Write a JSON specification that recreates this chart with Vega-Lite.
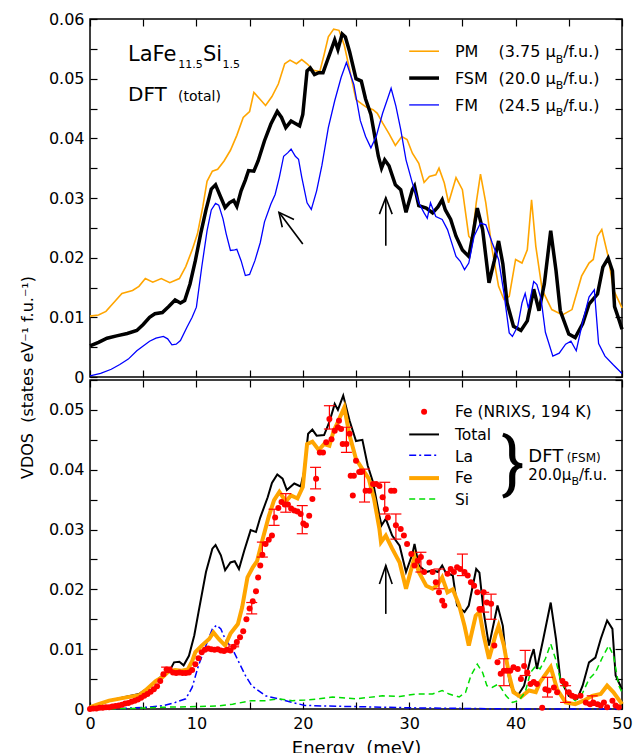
{
"$schema":"https://vega.github.io/schema/vega-lite/v6.json",
"background":"white",
"padding":{"left":18,"top":10,"right":5,"bottom":5},
"config":{"view":{"stroke":"black","strokeWidth":1.5},"font":"DejaVu Sans",
"axis":{"domain":false,"grid":false,"ticks":true,"tickColor":"black","tickWidth":1.2,"tickSize":-7,"labelFont":"DejaVu Sans","labelFontSize":16,"labelColor":"black","labelPadding":13,"labelFlush":false,"labelOverlap":false,"titleFont":"DejaVu Sans","titleFontWeight":"normal","titleColor":"black"}},
"datasets":{
"pm":[{"E":0,"v":0.0102},{"E":0.8,"v":0.0104},{"E":1.5,"v":0.011},{"E":2.2,"v":0.0124},{"E":3,"v":0.014},{"E":4,"v":0.0145},{"E":4.6,"v":0.0152},{"E":5.2,"v":0.0165},{"E":5.9,"v":0.0159},{"E":6.7,"v":0.0165},{"E":7.5,"v":0.0158},{"E":8.4,"v":0.0165},{"E":9,"v":0.0185},{"E":9.6,"v":0.0213},{"E":10.1,"v":0.024},{"E":10.6,"v":0.0285},{"E":11,"v":0.0328},{"E":11.5,"v":0.0345},{"E":12,"v":0.0348},{"E":12.6,"v":0.0362},{"E":13.2,"v":0.038},{"E":13.8,"v":0.0405},{"E":14.4,"v":0.0435},{"E":15,"v":0.0445},{"E":15.4,"v":0.0477},{"E":16,"v":0.0465},{"E":16.5,"v":0.0455},{"E":17.1,"v":0.047},{"E":17.7,"v":0.0491},{"E":18.3,"v":0.0525},{"E":18.8,"v":0.0531},{"E":19.4,"v":0.0525},{"E":19.9,"v":0.0532},{"E":20.4,"v":0.0525},{"E":21,"v":0.0514},{"E":21.6,"v":0.0512},{"E":22,"v":0.054},{"E":22.4,"v":0.057},{"E":22.9,"v":0.0583},{"E":23.4,"v":0.0581},{"E":23.9,"v":0.0556},{"E":24.4,"v":0.0515},{"E":25,"v":0.0465},{"E":25.5,"v":0.0458},{"E":26,"v":0.0452},{"E":26.6,"v":0.0448},{"E":27,"v":0.0442},{"E":27.5,"v":0.0426},{"E":28.1,"v":0.0408},{"E":28.7,"v":0.0388},{"E":29.3,"v":0.0403},{"E":29.8,"v":0.0398},{"E":30.3,"v":0.0375},{"E":30.9,"v":0.0358},{"E":31.4,"v":0.0326},{"E":31.9,"v":0.0336},{"E":32.5,"v":0.0339},{"E":32.8,"v":0.035},{"E":33.3,"v":0.0325},{"E":33.7,"v":0.0292},{"E":34.4,"v":0.0334},{"E":35,"v":0.0314},{"E":35.6,"v":0.0236},{"E":35.9,"v":0.023},{"E":36.3,"v":0.0292},{"E":36.7,"v":0.034},{"E":37.2,"v":0.0292},{"E":37.8,"v":0.0213},{"E":38.4,"v":0.0152},{"E":38.9,"v":0.013},{"E":39.4,"v":0.0135},{"E":40,"v":0.0197},{"E":40.6,"v":0.0191},{"E":41.1,"v":0.0213},{"E":41.5,"v":0.0297},{"E":41.9,"v":0.0219},{"E":42.5,"v":0.0146},{"E":43.4,"v":0.0113},{"E":44.4,"v":0.0104},{"E":45.3,"v":0.0113},{"E":46.2,"v":0.0169},{"E":46.9,"v":0.0191},{"E":47.3,"v":0.0197},{"E":47.7,"v":0.0236},{"E":48.1,"v":0.0247},{"E":48.7,"v":0.0202},{"E":49.2,"v":0.0146},{"E":50,"v":0.0116}],
"fsm":[{"E":0,"v":0.0052},{"E":0.8,"v":0.0058},{"E":1.6,"v":0.0065},{"E":2.5,"v":0.0069},{"E":3.5,"v":0.0073},{"E":4.4,"v":0.0078},{"E":5,"v":0.0088},{"E":5.6,"v":0.01},{"E":6.1,"v":0.0106},{"E":6.8,"v":0.0108},{"E":7.4,"v":0.0118},{"E":8,"v":0.0129},{"E":8.5,"v":0.0124},{"E":8.9,"v":0.0128},{"E":9.4,"v":0.0156},{"E":9.9,"v":0.0195},{"E":10.4,"v":0.024},{"E":10.9,"v":0.028},{"E":11.4,"v":0.0315},{"E":11.8,"v":0.0322},{"E":12.2,"v":0.0305},{"E":12.7,"v":0.0284},{"E":13.1,"v":0.0292},{"E":13.5,"v":0.0296},{"E":13.8,"v":0.0286},{"E":14.2,"v":0.0312},{"E":14.6,"v":0.033},{"E":14.9,"v":0.0346},{"E":15.4,"v":0.0345},{"E":15.8,"v":0.0362},{"E":16.4,"v":0.0396},{"E":17,"v":0.0424},{"E":17.6,"v":0.0445},{"E":18,"v":0.0435},{"E":18.4,"v":0.0418},{"E":18.9,"v":0.0429},{"E":19.3,"v":0.0425},{"E":19.7,"v":0.0421},{"E":20,"v":0.044},{"E":20.4,"v":0.0513},{"E":20.7,"v":0.0518},{"E":21.1,"v":0.0507},{"E":21.5,"v":0.051},{"E":21.9,"v":0.051},{"E":22.3,"v":0.053},{"E":22.6,"v":0.0545},{"E":23,"v":0.0565},{"E":23.3,"v":0.0549},{"E":23.7,"v":0.0575},{"E":24,"v":0.057},{"E":24.4,"v":0.0545},{"E":25,"v":0.05},{"E":25.5,"v":0.0496},{"E":25.9,"v":0.0466},{"E":26.4,"v":0.044},{"E":26.8,"v":0.04},{"E":27.1,"v":0.037},{"E":27.4,"v":0.035},{"E":27.7,"v":0.0364},{"E":28.1,"v":0.0354},{"E":28.7,"v":0.0322},{"E":29.2,"v":0.0314},{"E":29.7,"v":0.0276},{"E":30.3,"v":0.0314},{"E":30.5,"v":0.032},{"E":30.9,"v":0.0287},{"E":31.6,"v":0.0283},{"E":32.2,"v":0.0275},{"E":32.7,"v":0.0285},{"E":33.1,"v":0.0297},{"E":33.4,"v":0.028},{"E":33.9,"v":0.0264},{"E":34.4,"v":0.0236},{"E":35,"v":0.0213},{"E":35.6,"v":0.0202},{"E":36,"v":0.024},{"E":36.4,"v":0.0283},{"E":36.9,"v":0.0247},{"E":37.5,"v":0.0158},{"E":38,"v":0.0195},{"E":38.4,"v":0.0228},{"E":38.8,"v":0.019},{"E":39.2,"v":0.0124},{"E":39.8,"v":0.0085},{"E":40.5,"v":0.0078},{"E":41.1,"v":0.0094},{"E":41.7,"v":0.0147},{"E":42.2,"v":0.0111},{"E":42.7,"v":0.0156},{"E":43.3,"v":0.0245},{"E":43.8,"v":0.0178},{"E":44.2,"v":0.0111},{"E":45,"v":0.0072},{"E":45.6,"v":0.0066},{"E":46.3,"v":0.0089},{"E":46.9,"v":0.0122},{"E":47.7,"v":0.0139},{"E":48.2,"v":0.0184},{"E":48.7,"v":0.0199},{"E":49.1,"v":0.0178},{"E":49.3,"v":0.0118},{"E":49.7,"v":0.0097},{"E":50,"v":0.008}],
"fm":[{"E":0,"v":0.0002},{"E":1,"v":0.0006},{"E":2,"v":0.0013},{"E":2.8,"v":0.0021},{"E":3.6,"v":0.003},{"E":4.4,"v":0.0044},{"E":5,"v":0.0052},{"E":5.6,"v":0.006},{"E":6.2,"v":0.0065},{"E":6.9,"v":0.0068},{"E":7.3,"v":0.0064},{"E":7.7,"v":0.0054},{"E":8.1,"v":0.0055},{"E":8.5,"v":0.0061},{"E":9.1,"v":0.0083},{"E":9.6,"v":0.01},{"E":10,"v":0.0117},{"E":10.5,"v":0.0184},{"E":11,"v":0.0245},{"E":11.4,"v":0.028},{"E":11.8,"v":0.0291},{"E":12.1,"v":0.0288},{"E":12.5,"v":0.0265},{"E":12.8,"v":0.024},{"E":13.2,"v":0.0212},{"E":13.6,"v":0.0213},{"E":13.8,"v":0.0214},{"E":14.2,"v":0.0195},{"E":14.6,"v":0.017},{"E":15,"v":0.0172},{"E":15.5,"v":0.0195},{"E":16,"v":0.0225},{"E":16.4,"v":0.026},{"E":17,"v":0.029},{"E":17.4,"v":0.0306},{"E":17.8,"v":0.0335},{"E":18.2,"v":0.037},{"E":18.6,"v":0.0376},{"E":18.9,"v":0.0382},{"E":19.3,"v":0.037},{"E":19.6,"v":0.0365},{"E":19.9,"v":0.0335},{"E":20.4,"v":0.0292},{"E":20.8,"v":0.0281},{"E":21.3,"v":0.0312},{"E":21.8,"v":0.0355},{"E":22.4,"v":0.0418},{"E":23,"v":0.0463},{"E":23.6,"v":0.0502},{"E":24.1,"v":0.0527},{"E":24.8,"v":0.049},{"E":25.4,"v":0.043},{"E":25.9,"v":0.0403},{"E":26.4,"v":0.0384},{"E":26.9,"v":0.0403},{"E":27.5,"v":0.0442},{"E":28,"v":0.0468},{"E":28.3,"v":0.0484},{"E":28.75,"v":0.0454},{"E":29.2,"v":0.0415},{"E":29.7,"v":0.0364},{"E":30.3,"v":0.0325},{"E":30.9,"v":0.0292},{"E":31.4,"v":0.0275},{"E":31.7,"v":0.0266},{"E":32,"v":0.0292},{"E":32.5,"v":0.0269},{"E":33.1,"v":0.0264},{"E":33.6,"v":0.0247},{"E":34.1,"v":0.0219},{"E":34.4,"v":0.0202},{"E":34.8,"v":0.0194},{"E":35.2,"v":0.018},{"E":35.6,"v":0.0191},{"E":36.1,"v":0.0236},{"E":36.7,"v":0.0258},{"E":37.2,"v":0.0255},{"E":37.8,"v":0.0225},{"E":38.4,"v":0.0197},{"E":38.9,"v":0.0141},{"E":39.4,"v":0.0074},{"E":39.7,"v":0.0068},{"E":40.2,"v":0.0085},{"E":40.6,"v":0.0124},{"E":40.9,"v":0.014},{"E":41.2,"v":0.0115},{"E":41.7,"v":0.016},{"E":42,"v":0.0155},{"E":42.4,"v":0.013},{"E":42.8,"v":0.0075},{"E":43.5,"v":0.0035},{"E":44.1,"v":0.004},{"E":44.7,"v":0.0055},{"E":45.2,"v":0.006},{"E":45.7,"v":0.0044},{"E":46.3,"v":0.0092},{"E":46.9,"v":0.0134},{"E":47.4,"v":0.0146},{"E":47.8,"v":0.0056},{"E":48.4,"v":0.0035},{"E":49.2,"v":0.002},{"E":50,"v":0.0006}],
"tot":[{"E":0,"v":0},{"E":0.8,"v":0.0006},{"E":1.8,"v":0.0014},{"E":3.3,"v":0.002},{"E":4.6,"v":0.0025},{"E":5.5,"v":0.0036},{"E":6.2,"v":0.0047},{"E":6.8,"v":0.0056},{"E":7.4,"v":0.0061},{"E":7.9,"v":0.0078},{"E":8.4,"v":0.0079},{"E":8.8,"v":0.0073},{"E":9.3,"v":0.0089},{"E":9.8,"v":0.0123},{"E":10.2,"v":0.0162},{"E":10.9,"v":0.0229},{"E":11.5,"v":0.0268},{"E":11.8,"v":0.0274},{"E":12.3,"v":0.0257},{"E":12.7,"v":0.0232},{"E":13.2,"v":0.0245},{"E":13.6,"v":0.0247},{"E":14,"v":0.0234},{"E":14.5,"v":0.0265},{"E":15.1,"v":0.0299},{"E":15.6,"v":0.0296},{"E":16,"v":0.032},{"E":16.7,"v":0.0354},{"E":17.1,"v":0.0378},{"E":17.6,"v":0.0392},{"E":18.1,"v":0.0385},{"E":18.5,"v":0.0366},{"E":19.2,"v":0.0377},{"E":19.8,"v":0.0372},{"E":20.1,"v":0.0395},{"E":20.5,"v":0.046},{"E":20.9,"v":0.0467},{"E":21.3,"v":0.0457},{"E":22,"v":0.0458},{"E":22.5,"v":0.048},{"E":23,"v":0.051},{"E":23.3,"v":0.05},{"E":23.8,"v":0.0524},{"E":24.4,"v":0.0482},{"E":25,"v":0.0448},{"E":25.6,"v":0.045},{"E":26.1,"v":0.0407},{"E":26.6,"v":0.0379},{"E":27.2,"v":0.0323},{"E":27.4,"v":0.0307},{"E":27.8,"v":0.0318},{"E":28.4,"v":0.029},{"E":29.1,"v":0.0273},{"E":29.7,"v":0.0229},{"E":30.3,"v":0.0259},{"E":30.5,"v":0.0276},{"E":30.9,"v":0.024},{"E":31.6,"v":0.0229},{"E":32.2,"v":0.0232},{"E":32.7,"v":0.0229},{"E":33.1,"v":0.024},{"E":33.4,"v":0.0229},{"E":34.1,"v":0.0223},{"E":34.5,"v":0.0173},{"E":35.2,"v":0.0162},{"E":35.6,"v":0.0173},{"E":36.3,"v":0.0234},{"E":36.6,"v":0.0228},{"E":37,"v":0.0162},{"E":37.5,"v":0.0106},{"E":38.3,"v":0.0173},{"E":38.8,"v":0.0139},{"E":39.1,"v":0.0084},{"E":39.5,"v":0.0039},{"E":40.2,"v":0.0022},{"E":40.8,"v":0.0039},{"E":41.4,"v":0.0084},{"E":41.7,"v":0.01},{"E":42,"v":0.0067},{"E":42.6,"v":0.0117},{"E":43.3,"v":0.0178},{"E":43.8,"v":0.0117},{"E":44.2,"v":0.005},{"E":45,"v":0.0022},{"E":45.8,"v":0.0017},{"E":46.3,"v":0.0039},{"E":46.9,"v":0.0078},{"E":47.5,"v":0.0086},{"E":48,"v":0.0117},{"E":48.6,"v":0.0148},{"E":49.1,"v":0.0134},{"E":49.4,"v":0.0056},{"E":50,"v":0.0033}],
"fe":[{"E":0,"v":0.0003},{"E":0.8,"v":0.0008},{"E":1.8,"v":0.0014},{"E":3.3,"v":0.0019},{"E":4.6,"v":0.0023},{"E":5.2,"v":0.0031},{"E":6.2,"v":0.0047},{"E":6.8,"v":0.0053},{"E":7.4,"v":0.0063},{"E":8,"v":0.0065},{"E":8.6,"v":0.0064},{"E":9.2,"v":0.0066},{"E":9.6,"v":0.008},{"E":9.9,"v":0.0095},{"E":10.5,"v":0.0106},{"E":11.2,"v":0.0117},{"E":11.6,"v":0.0128},{"E":12.1,"v":0.0117},{"E":12.7,"v":0.0106},{"E":13.2,"v":0.0126},{"E":13.9,"v":0.0142},{"E":14.3,"v":0.017},{"E":14.8,"v":0.022},{"E":15.3,"v":0.0237},{"E":15.7,"v":0.0247},{"E":16.2,"v":0.0282},{"E":16.8,"v":0.0322},{"E":17.3,"v":0.0349},{"E":17.8,"v":0.0363},{"E":18.4,"v":0.0347},{"E":18.9,"v":0.0357},{"E":19.5,"v":0.0352},{"E":20,"v":0.0371},{"E":20.4,"v":0.0443},{"E":20.9,"v":0.0447},{"E":21.5,"v":0.0433},{"E":22,"v":0.0443},{"E":22.5,"v":0.044},{"E":22.9,"v":0.0465},{"E":23.3,"v":0.048},{"E":23.9,"v":0.0504},{"E":24.4,"v":0.0457},{"E":25,"v":0.0418},{"E":25.6,"v":0.0401},{"E":26.2,"v":0.0385},{"E":26.7,"v":0.0351},{"E":27.2,"v":0.0301},{"E":27.35,"v":0.0279},{"E":27.8,"v":0.029},{"E":28.4,"v":0.0268},{"E":29.1,"v":0.0245},{"E":29.7,"v":0.0201},{"E":30.5,"v":0.0254},{"E":30.9,"v":0.0229},{"E":31.6,"v":0.0206},{"E":32.2,"v":0.0201},{"E":32.65,"v":0.0207},{"E":33.1,"v":0.022},{"E":33.6,"v":0.0195},{"E":34.1,"v":0.02},{"E":34.7,"v":0.0173},{"E":35.2,"v":0.0139},{"E":35.6,"v":0.0106},{"E":36.25,"v":0.0156},{"E":36.6,"v":0.0162},{"E":37,"v":0.0123},{"E":37.5,"v":0.0084},{"E":38.1,"v":0.0123},{"E":38.4,"v":0.0139},{"E":38.9,"v":0.0106},{"E":39.4,"v":0.0056},{"E":39.8,"v":0.0028},{"E":40.5,"v":0.002},{"E":41.25,"v":0.0031},{"E":41.9,"v":0.0028},{"E":42.3,"v":0.0045},{"E":43.3,"v":0.007},{"E":43.9,"v":0.0033},{"E":44.7,"v":0.0011},{"E":45.6,"v":0.0008},{"E":46.4,"v":0.0014},{"E":47.2,"v":0.0022},{"E":48,"v":0.0025},{"E":48.6,"v":0.0039},{"E":49.2,"v":0.0028},{"E":50,"v":0.0008}],
"la":[{"E":0,"v":0},{"E":3,"v":0.0001},{"E":5.5,"v":0.0003},{"E":7,"v":0.0006},{"E":8,"v":0.0011},{"E":9,"v":0.0017},{"E":9.6,"v":0.0036},{"E":10.2,"v":0.0073},{"E":10.9,"v":0.0106},{"E":11.5,"v":0.0134},{"E":11.9,"v":0.014},{"E":12.3,"v":0.0134},{"E":12.7,"v":0.0117},{"E":13.4,"v":0.01},{"E":14,"v":0.0078},{"E":14.6,"v":0.0056},{"E":15.2,"v":0.0039},{"E":16.5,"v":0.0022},{"E":17.7,"v":0.0017},{"E":19,"v":0.0011},{"E":20.2,"v":0.0006},{"E":22,"v":0.0005},{"E":25,"v":0.0004},{"E":30,"v":0.0002},{"E":35,"v":0.0001},{"E":40,"v":0},{"E":50,"v":0}],
"si":[{"E":0,"v":0},{"E":4,"v":0.0001},{"E":7,"v":0.0003},{"E":10,"v":0.0004},{"E":12,"v":0.0005},{"E":13.4,"v":0.0008},{"E":15.2,"v":0.0014},{"E":16.5,"v":0.0014},{"E":17.7,"v":0.0017},{"E":19,"v":0.0014},{"E":20.2,"v":0.0015},{"E":21.5,"v":0.0017},{"E":22.8,"v":0.002},{"E":25,"v":0.0017},{"E":27.5,"v":0.0022},{"E":29.1,"v":0.0021},{"E":30.6,"v":0.0025},{"E":32.2,"v":0.0025},{"E":33.1,"v":0.0031},{"E":33.75,"v":0.0025},{"E":34.7,"v":0.002},{"E":35.3,"v":0.0028},{"E":35.8,"v":0.0056},{"E":36.4,"v":0.0075},{"E":36.9,"v":0.0061},{"E":37.3,"v":0.0039},{"E":37.8,"v":0.0036},{"E":38.4,"v":0.0042},{"E":39.1,"v":0.0022},{"E":39.7,"v":0.0011},{"E":40.3,"v":0.0014},{"E":40.9,"v":0.0028},{"E":41.4,"v":0.0061},{"E":41.9,"v":0.0072},{"E":42.3,"v":0.0067},{"E":42.8,"v":0.0084},{"E":43.3,"v":0.0109},{"E":43.75,"v":0.0084},{"E":44.2,"v":0.005},{"E":44.8,"v":0.0028},{"E":45.6,"v":0.0014},{"E":46.25,"v":0.0025},{"E":46.9,"v":0.005},{"E":47.5,"v":0.0061},{"E":48.1,"v":0.0084},{"E":48.75,"v":0.0106},{"E":49.2,"v":0.0089},{"E":49.7,"v":0.0039},{"E":50,"v":0.0028}],
"nrixs":[{"E":0,"v":0},{"E":0.3,"v":0.0001},{"E":0.6,"v":0.0001},{"E":0.9,"v":0.0002},{"E":1.2,"v":0.0002},{"E":1.5,"v":0.0003},{"E":1.8,"v":0.0003},{"E":2.1,"v":0.0004},{"E":2.4,"v":0.0005},{"E":2.7,"v":0.0006},{"E":3,"v":0.0007},{"E":3.3,"v":0.0009},{"E":3.6,"v":0.001},{"E":3.9,"v":0.0012},{"E":4.2,"v":0.0014},{"E":4.5,"v":0.0016},{"E":4.8,"v":0.0019},{"E":5.1,"v":0.0022},{"E":5.4,"v":0.0025},{"E":5.7,"v":0.0029},{"E":6,"v":0.0033},{"E":6.3,"v":0.0038},{"E":6.6,"v":0.0047},{"E":6.9,"v":0.0058},{"E":7.2,"v":0.0066},{"E":7.5,"v":0.0065},{"E":7.8,"v":0.0061},{"E":8.1,"v":0.006},{"E":8.4,"v":0.0061},{"E":8.7,"v":0.006},{"E":9,"v":0.006},{"E":9.3,"v":0.0061},{"E":9.6,"v":0.0065},{"E":9.9,"v":0.0075},{"E":10.2,"v":0.0085},{"E":10.5,"v":0.0095},{"E":10.8,"v":0.0099},{"E":11.1,"v":0.0101},{"E":11.4,"v":0.01},{"E":11.7,"v":0.0099},{"E":12,"v":0.01},{"E":12.3,"v":0.0098},{"E":12.6,"v":0.0097},{"E":12.9,"v":0.0099},{"E":13.2,"v":0.0098},{"E":13.5,"v":0.0104},{"E":13.8,"v":0.0112},{"E":14.1,"v":0.012},{"E":14.4,"v":0.013},{"E":14.7,"v":0.015},{"E":15,"v":0.0168},{"E":15.3,"v":0.018},{"E":15.6,"v":0.0197},{"E":15.8,"v":0.022},{"E":16,"v":0.024},{"E":16.2,"v":0.0258},{"E":16.5,"v":0.0276},{"E":16.8,"v":0.0283},{"E":17.1,"v":0.029},{"E":17.4,"v":0.032},{"E":17.7,"v":0.0336},{"E":18,"v":0.0346},{"E":18.3,"v":0.0342},{"E":18.6,"v":0.0342},{"E":18.9,"v":0.0335},{"E":19.2,"v":0.0332},{"E":19.5,"v":0.033},{"E":19.8,"v":0.0326},{"E":20.05,"v":0.031},{"E":20.3,"v":0.0307},{"E":20.6,"v":0.0323},{"E":20.9,"v":0.0351},{"E":21.25,"v":0.0385},{"E":21.6,"v":0.0429},{"E":21.9,"v":0.0429},{"E":22.2,"v":0.0446},{"E":22.5,"v":0.0485},{"E":22.7,"v":0.0451},{"E":23,"v":0.0465},{"E":23.3,"v":0.0471},{"E":23.4,"v":0.0482},{"E":23.6,"v":0.0468},{"E":23.75,"v":0.0443},{"E":24.1,"v":0.0443},{"E":24.4,"v":0.046},{"E":24.5,"v":0.039},{"E":24.7,"v":0.0357},{"E":24.8,"v":0.039},{"E":25,"v":0.0415},{"E":25.3,"v":0.0396},{"E":25.5,"v":0.0396},{"E":25.9,"v":0.0365},{"E":26.25,"v":0.0365},{"E":26.6,"v":0.0376},{"E":26.9,"v":0.0376},{"E":27.2,"v":0.0373},{"E":27.5,"v":0.0354},{"E":27.8,"v":0.0334},{"E":28,"v":0.032},{"E":28.3,"v":0.0365},{"E":28.6,"v":0.0365},{"E":28.75,"v":0.0307},{"E":29.2,"v":0.0301},{"E":29.5,"v":0.029},{"E":29.8,"v":0.0276},{"E":30.2,"v":0.0259},{"E":30.5,"v":0.024},{"E":30.8,"v":0.0248},{"E":31.1,"v":0.0254},{"E":31.4,"v":0.0229},{"E":31.9,"v":0.0245},{"E":32.2,"v":0.0229},{"E":32.5,"v":0.0212},{"E":32.8,"v":0.0195},{"E":33.1,"v":0.0181},{"E":33.3,"v":0.0173},{"E":33.6,"v":0.0226},{"E":33.9,"v":0.0234},{"E":34.2,"v":0.0229},{"E":34.5,"v":0.0237},{"E":34.8,"v":0.0234},{"E":35.2,"v":0.0229},{"E":35.5,"v":0.0223},{"E":35.8,"v":0.0212},{"E":36.1,"v":0.0206},{"E":36.4,"v":0.0195},{"E":36.6,"v":0.0167},{"E":36.8,"v":0.0167},{"E":37,"v":0.0195},{"E":37.3,"v":0.0178},{"E":37.7,"v":0.0176},{"E":38,"v":0.0106},{"E":38.3,"v":0.0078},{"E":38.6,"v":0.0059},{"E":38.9,"v":0.0064},{"E":39.2,"v":0.0064},{"E":39.5,"v":0.0064},{"E":39.8,"v":0.007},{"E":40.2,"v":0.0067},{"E":40.5,"v":0.005},{"E":40.8,"v":0.0072},{"E":41.1,"v":0.0061},{"E":41.4,"v":0.0042},{"E":41.7,"v":0.0045},{"E":42,"v":0.0042},{"E":42.5,"v":0.0002},{"E":42.8,"v":0.0033},{"E":43.1,"v":0.0031},{"E":43.6,"v":0.0036},{"E":43.9,"v":0.0028},{"E":44.4,"v":0.0047},{"E":44.7,"v":0.0042},{"E":45,"v":0.0028},{"E":45.3,"v":0.0022},{"E":45.6,"v":0.002},{"E":46.1,"v":0.0022},{"E":46.6,"v":0.0011},{"E":47,"v":0.0008},{"E":47.3,"v":0.0011},{"E":47.7,"v":0.0008},{"E":48,"v":0.0006},{"E":48.3,"v":0.0011},{"E":48.6,"v":0.0003},{"E":49.1,"v":0.0014},{"E":49.4,"v":0.0006},{"E":49.7,"v":0.0003}],
"err":[{"E":7.2,"lo":0.0061,"hi":0.007},{"E":13.5,"lo":0.0104,"hi":0.0107},{"E":15.2,"lo":0.0159,"hi":0.0178},{"E":16.2,"lo":0.0254,"hi":0.0279},{"E":17.3,"lo":0.0307,"hi":0.0334},{"E":18.4,"lo":0.0329,"hi":0.036},{"E":19.95,"lo":0.0293,"hi":0.034},{"E":21.2,"lo":0.0368,"hi":0.0404},{"E":22.5,"lo":0.0468,"hi":0.0507},{"E":24.1,"lo":0.0429,"hi":0.0471},{"E":25.8,"lo":0.0346,"hi":0.0401},{"E":27.7,"lo":0.0326,"hi":0.0379},{"E":28.75,"lo":0.0284,"hi":0.0326},{"E":31.1,"lo":0.0229,"hi":0.0262},{"E":32.8,"lo":0.0201,"hi":0.0234},{"E":35,"lo":0.0223,"hi":0.0259},{"E":37,"lo":0.0162,"hi":0.0195},{"E":37.7,"lo":0.015,"hi":0.0192},{"E":38.9,"lo":0.0039,"hi":0.0084},{"E":40.9,"lo":0.0056,"hi":0.0098},{"E":43,"lo":0.002,"hi":0.0053},{"E":44.7,"lo":0.0011,"hi":0.0039},{"E":47.2,"lo":0.0006,"hi":0.0022}],
"arrTop":[{"g":"s1","E":20.0,"v":0.0223},{"g":"s1","E":17.76,"v":0.0276},{"g":"h1","E":18.07,"v":0.0251},{"g":"h1","E":17.76,"v":0.0276},{"g":"h1","E":19.17,"v":0.0264},{"g":"s2","E":27.8,"v":0.022},{"g":"s2","E":27.8,"v":0.0301},{"g":"h2","E":27.2,"v":0.0273},{"g":"h2","E":27.8,"v":0.0301},{"g":"h2","E":28.4,"v":0.0273}],
"arrBot":[{"g":"s3","E":27.8,"v":0.0159},{"g":"s3","E":27.8,"v":0.024},{"g":"h3","E":27.2,"v":0.0209},{"g":"h3","E":27.8,"v":0.024},{"g":"h3","E":28.4,"v":0.0209}]
},
"spacing":3,
"bounds":"flush",
"vconcat":[
{"width":532,"height":358,
"resolve":{"axis":{"x":"independent","y":"independent"}},
"layer":[
{"data":{"name":"pm"},"mark":{"type":"line","color":"#FFA500","strokeWidth":1.6},
"encoding":{"x":{"field":"E","type":"quantitative","scale":{"domain":[0,50],"nice":false,"zero":false},"axis":{"orient":"bottom","values":[0,5,10,15,20,25,30,35,40,45,50],"labels":false,"title":null}},
"y":{"field":"v","type":"quantitative","scale":{"domain":[0,0.06],"nice":false,"zero":false},"axis":{"orient":"left","values":[0,0.005,0.01,0.015,0.02,0.025,0.03,0.035,0.04,0.045,0.05,0.055,0.06],"labelExpr":"(round(datum.value*1000) % 10 == 0) ? (datum.value == 0 ? '0' : format(datum.value, '.2f')) : ''","title":null}}}},
{"data":{"name":"fsm"},"mark":{"type":"line","color":"black","strokeWidth":3.5},
"encoding":{"x":{"field":"E","type":"quantitative","axis":{"orient":"top","values":[0,5,10,15,20,25,30,35,40,45,50],"labels":false,"title":null}},
"y":{"field":"v","type":"quantitative","axis":{"orient":"right","values":[0,0.005,0.01,0.015,0.02,0.025,0.03,0.035,0.04,0.045,0.05,0.055,0.06],"labels":false,"title":null}}}},
{"data":{"name":"fm"},"mark":{"type":"line","color":"#0000FF","strokeWidth":1.3},
"encoding":{"x":{"field":"E","type":"quantitative","axis":null},"y":{"field":"v","type":"quantitative","axis":null}}},
{"data":{"name":"arrTop"},"mark":{"type":"line","color":"black","strokeWidth":1.6},
"encoding":{"x":{"field":"E","type":"quantitative","axis":null},"y":{"field":"v","type":"quantitative","axis":null},"detail":{"field":"g"},"order":{"value":null}}},
{"data":{"values":[{}]},"mark":{"type":"rule","color":"#FFA500","strokeWidth":1.6},"encoding":{"x":{"datum":30.0,"type":"quantitative","axis":null},"x2":{"datum":32.8},"y":{"datum":0.0546,"type":"quantitative","axis":null}}},
{"data":{"values":[{}]},"mark":{"type":"rule","color":"black","strokeWidth":3.5},"encoding":{"x":{"datum":30.0,"type":"quantitative","axis":null},"x2":{"datum":32.8},"y":{"datum":0.0501,"type":"quantitative","axis":null}}},
{"data":{"values":[{}]},"mark":{"type":"rule","color":"#0000FF","strokeWidth":1.3},"encoding":{"x":{"datum":30.0,"type":"quantitative","axis":null},"x2":{"datum":32.8},"y":{"datum":0.0456,"type":"quantitative","axis":null}}},
{"data":{"values":[{}]},"mark":{"type":"text","text":"PM","fontSize":16,"align":"left","baseline":"alphabetic"},"encoding":{"x":{"datum":34.3,"type":"quantitative","axis":null},"y":{"datum":0.0536,"type":"quantitative","axis":null}}},
{"data":{"values":[{}]},"mark":{"type":"text","text":"FSM","fontSize":16,"align":"left","baseline":"alphabetic"},"encoding":{"x":{"datum":34.3,"type":"quantitative","axis":null},"y":{"datum":0.0491,"type":"quantitative","axis":null}}},
{"data":{"values":[{}]},"mark":{"type":"text","text":"FM","fontSize":16,"align":"left","baseline":"alphabetic"},"encoding":{"x":{"datum":34.3,"type":"quantitative","axis":null},"y":{"datum":0.0446,"type":"quantitative","axis":null}}},
{"data":{"values":[{}]},"mark":{"type":"text","text":"(3.75 μ","fontSize":16,"align":"left","baseline":"alphabetic"},"encoding":{"x":{"datum":38.4,"type":"quantitative","axis":null},"y":{"datum":0.0536,"type":"quantitative","axis":null}}},
{"data":{"values":[{}]},"mark":{"type":"text","text":"(20.0 μ","fontSize":16,"align":"left","baseline":"alphabetic"},"encoding":{"x":{"datum":38.4,"type":"quantitative","axis":null},"y":{"datum":0.0491,"type":"quantitative","axis":null}}},
{"data":{"values":[{}]},"mark":{"type":"text","text":"(24.5 μ","fontSize":16,"align":"left","baseline":"alphabetic"},"encoding":{"x":{"datum":38.4,"type":"quantitative","axis":null},"y":{"datum":0.0446,"type":"quantitative","axis":null}}},
{"data":{"values":[{}]},"mark":{"type":"text","text":"B","fontSize":11,"align":"left","baseline":"alphabetic"},"encoding":{"x":{"datum":43.77,"type":"quantitative","axis":null},"y":{"datum":0.0527,"type":"quantitative","axis":null}}},
{"data":{"values":[{}]},"mark":{"type":"text","text":"B","fontSize":11,"align":"left","baseline":"alphabetic"},"encoding":{"x":{"datum":43.77,"type":"quantitative","axis":null},"y":{"datum":0.0482,"type":"quantitative","axis":null}}},
{"data":{"values":[{}]},"mark":{"type":"text","text":"B","fontSize":11,"align":"left","baseline":"alphabetic"},"encoding":{"x":{"datum":43.77,"type":"quantitative","axis":null},"y":{"datum":0.0437,"type":"quantitative","axis":null}}},
{"data":{"values":[{}]},"mark":{"type":"text","text":"/f.u.)","fontSize":16,"align":"left","baseline":"alphabetic"},"encoding":{"x":{"datum":44.47,"type":"quantitative","axis":null},"y":{"datum":0.0536,"type":"quantitative","axis":null}}},
{"data":{"values":[{}]},"mark":{"type":"text","text":"/f.u.)","fontSize":16,"align":"left","baseline":"alphabetic"},"encoding":{"x":{"datum":44.47,"type":"quantitative","axis":null},"y":{"datum":0.0491,"type":"quantitative","axis":null}}},
{"data":{"values":[{}]},"mark":{"type":"text","text":"/f.u.)","fontSize":16,"align":"left","baseline":"alphabetic"},"encoding":{"x":{"datum":44.47,"type":"quantitative","axis":null},"y":{"datum":0.0446,"type":"quantitative","axis":null}}},
{"data":{"values":[{}]},"mark":{"type":"text","text":"LaFe","fontSize":21,"align":"left","baseline":"alphabetic"},"encoding":{"x":{"datum":3.57,"type":"quantitative","axis":null},"y":{"datum":0.0529,"type":"quantitative","axis":null}}},
{"data":{"values":[{}]},"mark":{"type":"text","text":"11.5","fontSize":11,"align":"left","baseline":"alphabetic"},"encoding":{"x":{"datum":8.3,"type":"quantitative","axis":null},"y":{"datum":0.0518,"type":"quantitative","axis":null}}},
{"data":{"values":[{}]},"mark":{"type":"text","text":"Si","fontSize":21,"align":"left","baseline":"alphabetic"},"encoding":{"x":{"datum":10.62,"type":"quantitative","axis":null},"y":{"datum":0.0529,"type":"quantitative","axis":null}}},
{"data":{"values":[{}]},"mark":{"type":"text","text":"1.5","fontSize":11,"align":"left","baseline":"alphabetic"},"encoding":{"x":{"datum":12.45,"type":"quantitative","axis":null},"y":{"datum":0.0518,"type":"quantitative","axis":null}}},
{"data":{"values":[{}]},"mark":{"type":"text","text":"DFT","fontSize":20,"align":"left","baseline":"alphabetic"},"encoding":{"x":{"datum":3.57,"type":"quantitative","axis":null},"y":{"datum":0.0463,"type":"quantitative","axis":null}}},
{"data":{"values":[{}]},"mark":{"type":"text","text":"(total)","fontSize":14,"align":"left","baseline":"alphabetic"},"encoding":{"x":{"datum":8.27,"type":"quantitative","axis":null},"y":{"datum":0.0463,"type":"quantitative","axis":null}}}
]},
{"width":532,"height":329,
"resolve":{"axis":{"x":"independent","y":"independent"}},
"layer":[
{"data":{"name":"tot"},"mark":{"type":"line","color":"black","strokeWidth":2},
"encoding":{"x":{"field":"E","type":"quantitative","scale":{"domain":[0,50],"nice":false,"zero":false},"axis":{"orient":"bottom","values":[0,5,10,15,20,25,30,35,40,45,50],"labelExpr":"datum.value % 10 == 0 ? format(datum.value, 'd') : ''","title":"Energy\u00a0 (meV)","titleFontSize":18,"titlePadding":8}},
"y":{"field":"v","type":"quantitative","scale":{"domain":[0,0.055],"nice":false,"zero":false},"axis":{"orient":"left","values":[0,0.005,0.01,0.015,0.02,0.025,0.03,0.035,0.04,0.045,0.05,0.055],"labelExpr":"(round(datum.value*1000) % 10 == 0) ? (datum.value == 0 ? '0' : format(datum.value, '.2f')) : ''","title":"VDOS\u00a0 (states eV⁻¹ f.u.⁻¹)","titleFontSize":16,"titleX":-63,"titleY":-3,"titleAngle":270,"titleAlign":"center","titleBaseline":"middle"}}}},
{"data":{"name":"la"},"mark":{"type":"line","color":"#0000FF","strokeWidth":1.5,"strokeDash":[7,3,2,3]},
"encoding":{"x":{"field":"E","type":"quantitative","axis":{"orient":"top","values":[0,5,10,15,20,25,30,35,40,45,50],"labels":false,"title":null}},
"y":{"field":"v","type":"quantitative","axis":{"orient":"right","values":[0,0.005,0.01,0.015,0.02,0.025,0.03,0.035,0.04,0.045,0.05,0.055],"labels":false,"title":null}}}},
{"data":{"name":"fe"},"mark":{"type":"line","color":"#FFA500","strokeWidth":4},
"encoding":{"x":{"field":"E","type":"quantitative","axis":null},"y":{"field":"v","type":"quantitative","axis":null}}},
{"data":{"name":"si"},"mark":{"type":"line","color":"#00DD00","strokeWidth":1.5,"strokeDash":[6,4]},
"encoding":{"x":{"field":"E","type":"quantitative","axis":null},"y":{"field":"v","type":"quantitative","axis":null}}},
{"data":{"name":"err"},"mark":{"type":"rule","color":"#FF0000","strokeWidth":1.2},
"encoding":{"x":{"field":"E","type":"quantitative","axis":null},"y":{"field":"lo","type":"quantitative","axis":null},"y2":{"field":"hi"}}},
{"data":{"name":"err"},"mark":{"type":"tick","color":"#FF0000","orient":"horizontal","size":11,"thickness":1.2,"opacity":1},
"encoding":{"x":{"field":"E","type":"quantitative","axis":null},"y":{"field":"lo","type":"quantitative","axis":null}}},
{"data":{"name":"err"},"mark":{"type":"tick","color":"#FF0000","orient":"horizontal","size":11,"thickness":1.2,"opacity":1},
"encoding":{"x":{"field":"E","type":"quantitative","axis":null},"y":{"field":"hi","type":"quantitative","axis":null}}},
{"data":{"name":"nrixs"},"mark":{"type":"circle","color":"#FF0000","size":36,"opacity":1},
"encoding":{"x":{"field":"E","type":"quantitative","axis":null},"y":{"field":"v","type":"quantitative","axis":null}}},
{"data":{"name":"arrBot"},"mark":{"type":"line","color":"black","strokeWidth":1.6},
"encoding":{"x":{"field":"E","type":"quantitative","axis":null},"y":{"field":"v","type":"quantitative","axis":null},"detail":{"field":"g"},"order":{"value":null}}},
{"data":{"values":[{}]},"mark":{"type":"circle","color":"#FF0000","size":36,"opacity":1},"encoding":{"x":{"datum":31.4,"type":"quantitative","axis":null},"y":{"datum":0.0497,"type":"quantitative","axis":null}}},
{"data":{"values":[{}]},"mark":{"type":"rule","color":"black","strokeWidth":2},"encoding":{"x":{"datum":30.0,"type":"quantitative","axis":null},"x2":{"datum":32.8},"y":{"datum":0.0459,"type":"quantitative","axis":null}}},
{"data":{"values":[{}]},"mark":{"type":"rule","color":"#0000FF","strokeWidth":1.5,"strokeDash":[7,3,2,3]},"encoding":{"x":{"datum":30.0,"type":"quantitative","axis":null},"x2":{"datum":32.8},"y":{"datum":0.0424,"type":"quantitative","axis":null}}},
{"data":{"values":[{}]},"mark":{"type":"rule","color":"#FFA500","strokeWidth":4},"encoding":{"x":{"datum":30.0,"type":"quantitative","axis":null},"x2":{"datum":32.8},"y":{"datum":0.0386,"type":"quantitative","axis":null}}},
{"data":{"values":[{}]},"mark":{"type":"rule","color":"#00DD00","strokeWidth":1.5,"strokeDash":[6,4]},"encoding":{"x":{"datum":30.0,"type":"quantitative","axis":null},"x2":{"datum":32.8},"y":{"datum":0.0351,"type":"quantitative","axis":null}}},
{"data":{"values":[{}]},"mark":{"type":"text","text":"Fe (NRIXS, 194 K)","fontSize":15.5,"align":"left","baseline":"alphabetic"},"encoding":{"x":{"datum":34.3,"type":"quantitative","axis":null},"y":{"datum":0.0488,"type":"quantitative","axis":null}}},
{"data":{"values":[{}]},"mark":{"type":"text","text":"Total","fontSize":15.5,"align":"left","baseline":"alphabetic"},"encoding":{"x":{"datum":34.3,"type":"quantitative","axis":null},"y":{"datum":0.0449,"type":"quantitative","axis":null}}},
{"data":{"values":[{}]},"mark":{"type":"text","text":"La","fontSize":15.5,"align":"left","baseline":"alphabetic"},"encoding":{"x":{"datum":34.3,"type":"quantitative","axis":null},"y":{"datum":0.0413,"type":"quantitative","axis":null}}},
{"data":{"values":[{}]},"mark":{"type":"text","text":"Fe","fontSize":15.5,"align":"left","baseline":"alphabetic"},"encoding":{"x":{"datum":34.3,"type":"quantitative","axis":null},"y":{"datum":0.0377,"type":"quantitative","axis":null}}},
{"data":{"values":[{}]},"mark":{"type":"text","text":"Si","fontSize":15.5,"align":"left","baseline":"alphabetic"},"encoding":{"x":{"datum":34.3,"type":"quantitative","axis":null},"y":{"datum":0.0341,"type":"quantitative","axis":null}}},
{"data":{"values":[{}]},"mark":{"type":"text","text":"}","font":"Roboto","fontWeight":400,"fontSize":68,"align":"center","baseline":"middle"},"encoding":{"x":{"datum":39.75,"type":"quantitative","axis":null},"y":{"datum":0.0406,"type":"quantitative","axis":null}}},
{"data":{"values":[{}]},"mark":{"type":"text","text":"DFT","fontSize":18,"align":"left","baseline":"alphabetic"},"encoding":{"x":{"datum":41.2,"type":"quantitative","axis":null},"y":{"datum":0.0413,"type":"quantitative","axis":null}}},
{"data":{"values":[{}]},"mark":{"type":"text","text":"(FSM)","fontSize":12,"align":"left","baseline":"alphabetic"},"encoding":{"x":{"datum":44.8,"type":"quantitative","axis":null},"y":{"datum":0.0413,"type":"quantitative","axis":null}}},
{"data":{"values":[{}]},"mark":{"type":"text","text":"20.0μ","fontSize":15,"align":"left","baseline":"alphabetic"},"encoding":{"x":{"datum":41.2,"type":"quantitative","axis":null},"y":{"datum":0.0382,"type":"quantitative","axis":null}}},
{"data":{"values":[{}]},"mark":{"type":"text","text":"B","fontSize":11,"align":"left","baseline":"alphabetic"},"encoding":{"x":{"datum":45.25,"type":"quantitative","axis":null},"y":{"datum":0.0374,"type":"quantitative","axis":null}}},
{"data":{"values":[{}]},"mark":{"type":"text","text":"/f.u.","fontSize":15,"align":"left","baseline":"alphabetic"},"encoding":{"x":{"datum":45.95,"type":"quantitative","axis":null},"y":{"datum":0.0382,"type":"quantitative","axis":null}}}
]}
]
}
